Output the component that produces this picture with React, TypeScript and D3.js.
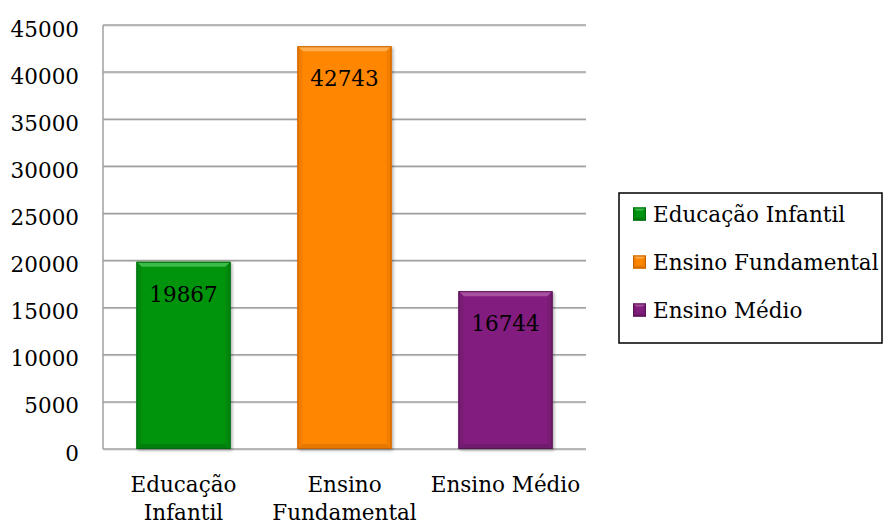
import React from "react";
import * as d3 from "d3";

const categories = ["Educação Infantil", "Ensino Fundamental", "Ensino Médio"];
const categoryLines = [["Educação", "Infantil"], ["Ensino", "Fundamental"], ["Ensino Médio"]];
const values = [19867, 42743, 16744];
const yTicks = [0, 5000, 10000, 15000, 20000, 25000, 30000, 35000, 40000, 45000];

const palette = [
  { base: "#009410", light: "#3dbb4a", side: "#008a0e", dark: "#007f0d", edge: "#006a0a" },
  { base: "#ff8600", light: "#ffac4d", side: "#f27e00", dark: "#e67800", edge: "#c46200" },
  { base: "#821f7e", light: "#a8519f", side: "#781b74", dark: "#701a6d", edge: "#571355" },
];

const W = 883;
const H = 525;
const FONT = "'DejaVu Serif', serif";
const FS = 21.5;

function Bevel({ x0, x1, y0, y1, b, c, shadow }: any) {
  const pts = (a: number[][]) => a.map((p) => p.join(",")).join(" ");
  return (
    <g filter={shadow ? "url(#shadow)" : undefined}>
      <rect x={x0} y={y0} width={x1 - x0} height={y1 - y0} fill={c.base} />
      <polygon points={pts([[x0, y0], [x1, y0], [x1 - b, y0 + b], [x0 + b, y0 + b]])} fill={c.light} />
      <polygon points={pts([[x0, y0], [x0 + b, y0 + b], [x0 + b, y1 - b], [x0, y1]])} fill={c.side} />
      <polygon points={pts([[x1, y0], [x1 - b, y0 + b], [x1 - b, y1 - b], [x1, y1]])} fill={c.side} />
      <polygon points={pts([[x0, y1], [x0 + b, y1 - b], [x1 - b, y1 - b], [x1, y1]])} fill={c.dark} />
      <rect x={x0 + 0.5} y={y0 + 0.5} width={x1 - x0 - 1} height={y1 - y0 - 1} fill="none" stroke={c.edge} strokeWidth={1} />
    </g>
  );
}

export default function App() {
  const y = d3.scaleLinear().domain([0, 45000]).range([449, 25]);
  const x = d3.scaleBand<string>().domain(categories).range([103, 586]).paddingInner(0.416).paddingOuter(0.208);
  const legendRows = d3.scalePoint<string>().domain(categories).range([214, 310]);

  return (
    <svg width={W} height={H} style={{ position: "absolute", left: 0, top: 0, background: "#fff" }} fontFamily={FONT}>
      <defs>
        <filter id="shadow" x="-10%" y="-10%" width="130%" height="130%">
          <feDropShadow dx="1.5" dy="1.5" stdDeviation="1.5" floodColor="#000" floodOpacity="0.3" />
        </filter>
      </defs>
      <rect width={W} height={H} fill="#fff" />
      {yTicks.map((t) => (
        <g key={t}>
          <line x1={103} x2={586} y1={y(t) + 1} y2={y(t) + 1} stroke="#d9d9d9" strokeWidth={1} />
          <line x1={103} x2={586} y1={y(t)} y2={y(t)} stroke="#a0a0a0" strokeWidth={1.5} />
          <text x={79} y={y(t) + 11.5} textAnchor="end" fontSize={FS} fill="#000">
            {t}
          </text>
        </g>
      ))}
      <line x1={103} x2={103} y1={y(45000)} y2={y(0)} stroke="#a0a0a0" strokeWidth={1.5} />
      {categories.map((c, i) => {
        const x0 = x(c)!;
        const x1 = x0 + x.bandwidth();
        const y0 = y(values[i]);
        const y1 = y(0);
        return (
          <g key={c}>
            <Bevel x0={x0} x1={x1} y0={y0} y1={y1} b={5} c={palette[i]} shadow />
            <text x={(x0 + x1) / 2} y={y0 + 40} textAnchor="middle" fontSize={FS} fill="#000">
              {values[i]}
            </text>
          </g>
        );
      })}
      {categories.map((c, i) => (
        <text key={c} x={x(c)! + x.bandwidth() / 2} textAnchor="middle" fontSize={FS} fill="#000">
          {categoryLines[i].map((l, j) => (
            <tspan key={j} x={x(c)! + x.bandwidth() / 2} y={492 + j * 28}>
              {l}
            </tspan>
          ))}
        </text>
      ))}
      <rect x={619} y={193} width={263} height={150} fill="#fff" stroke="#000" strokeWidth={1.5} />
      {categories.map((c, i) => {
        const cy = legendRows(c)!;
        return (
          <g key={c}>
            <Bevel x0={633} x1={646} y0={cy - 6.5} y1={cy + 6.5} b={3} c={palette[i]} />
            <text x={653} y={cy + 8} fontSize={FS} fill="#000">
              {c}
            </text>
          </g>
        );
      })}
    </svg>
  );
}
